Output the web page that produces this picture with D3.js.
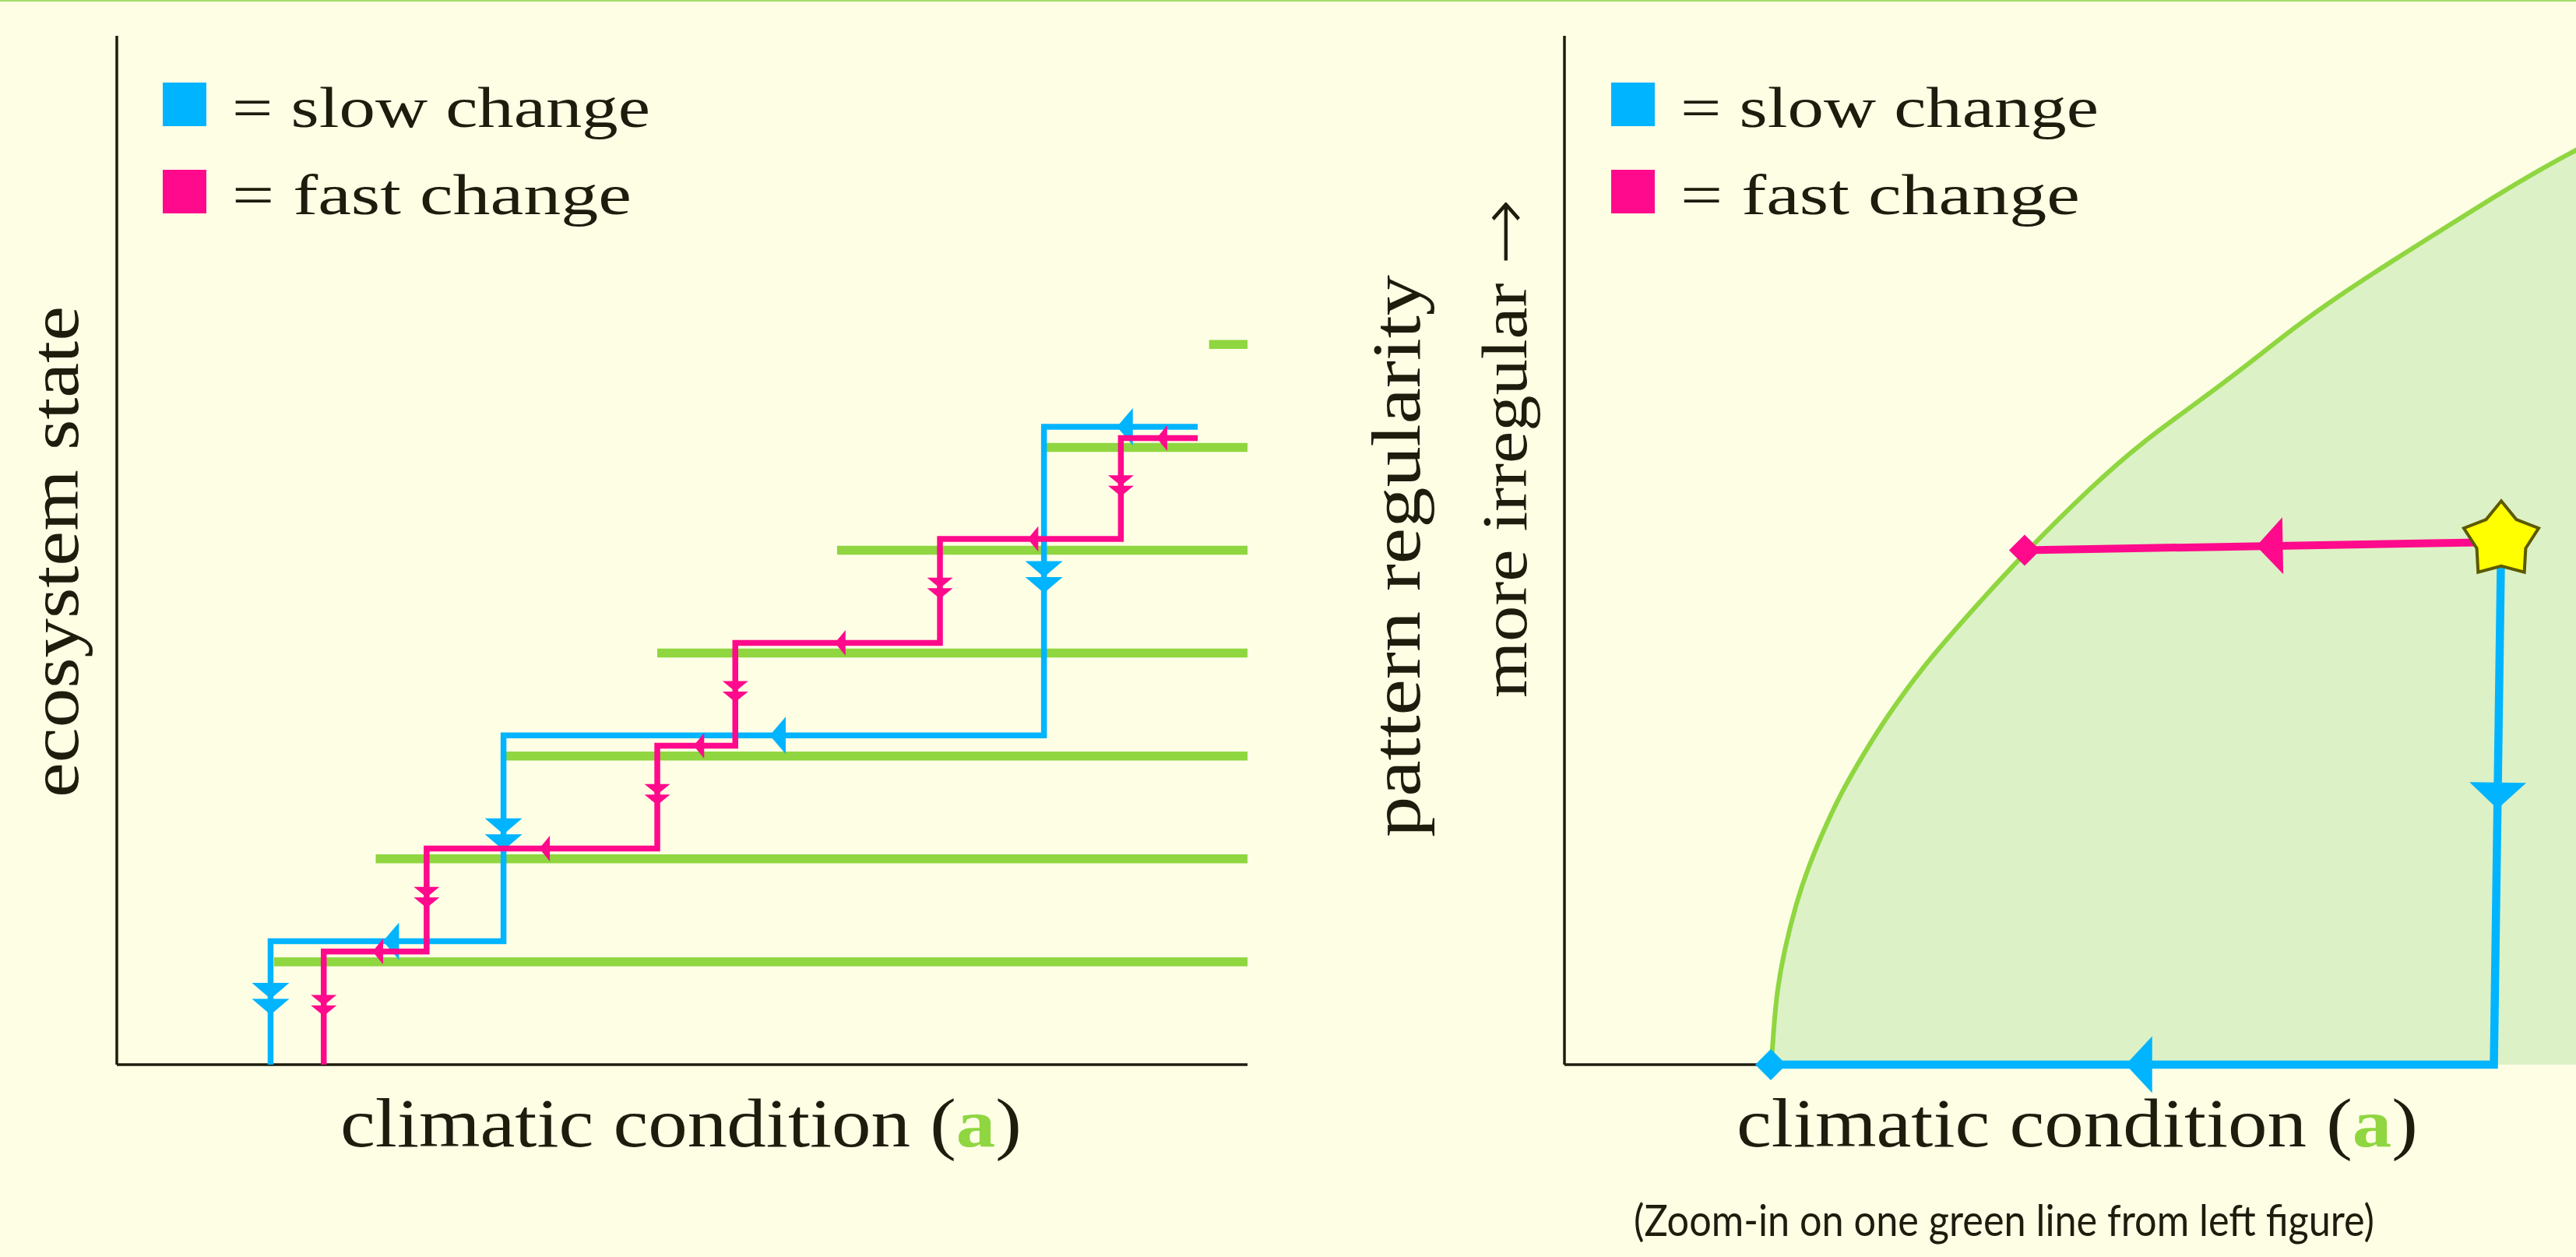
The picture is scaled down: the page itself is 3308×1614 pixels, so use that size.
<!DOCTYPE html>
<html>
<head>
<meta charset="utf-8">
<script src="https://cdn.jsdelivr.net/npm/d3@7"></script>
<style>
  html, body { margin: 0; padding: 0; background: #fefee5; }
  svg { display: block; }
</style>
</head>
<body>
<script>
// ---------------- DATA ----------------
// Left panel: green stable-state lines
const greenLevels = [1, 2, 3, 4, 5, 6, 7];
const greenStarts = [1.39, 2.29, 3.42, 4.78, 6.37, 8.22, 9.66];
const greenEnd = 10;
// Left panel: slow-change (blue) staircase, in travel order
const blueStepX = [9.56, 8.20, 8.20, 3.42, 3.42, 1.36, 1.36];
const blueStepY = [6.20, 6.20, 3.20, 3.20, 1.20, 1.20, 0];
// Left panel: fast-change (pink) staircase, in travel order
const pinkStepX = [9.56, 8.88, 8.88, 7.28, 7.28, 5.47, 5.47, 4.78, 4.78, 2.74, 2.74, 1.83, 1.83];
const pinkStepY = [6.09, 6.09, 5.11, 5.11, 4.10, 4.10, 3.10, 3.10, 2.10, 2.10, 1.10, 1.10, 0];

// Right panel: boundary curve (zoom on one green line)
const curveX = [1.83, 1.87, 1.95, 2.05, 2.14, 2.28, 2.44, 2.64, 2.85, 3.15, 3.52, 4.02, 4.67, 5.12, 5.59, 6.05, 6.46, 6.83, 7.29, 7.74, 8.20, 8.66, 8.95, 10.0];
const curveY = [0.00, 0.68, 1.14, 1.57, 1.87, 2.25, 2.63, 3.01, 3.38, 3.84, 4.31, 4.92, 5.63, 6.06, 6.43, 6.81, 7.17, 7.46, 7.79, 8.10, 8.42, 8.72, 8.89, 9.52];
// Right panel paths, in travel order
const bluePathRX = [8.285, 8.22, 1.825];
const bluePathRY = [5.10, 0.00, 0.00];
const pinkPathRX = [8.285, 4.07];
const pinkPathRY = [5.08, 5.00];
const starXY = [8.285, 5.096];

// Texts
const legendLabels = ["= slow change", "= fast change"];
const legendColors = ["#00b4ff", "#ff0a8c"];
const xLabelMain = "climatic condition (";
const xLabelSym = "a";
const yLabelLeft = "ecosystem state";
const yLabelRight1 = "pattern regularity";
const yLabelRight2 = "more irregular ";
const yLabelRight2Arrow = "\u2192";
const caption = "(Zoom-in on one green line from left figure)";

// ---------------- STYLE ----------------
const W = 3308, H = 1614;
const BG = "#fefee5", INK = "#1e1c0c";
const BLUE = "#00b4ff", PINK = "#ff0a8c", GREEN = "#8fd640", FILL = "#dcf1c6";
const SERIF = "'Liberation Serif', 'DejaVu Serif', serif";
const SANS = "Lato, 'Liberation Sans', sans-serif";

const svg = d3.select("body").append("svg")
  .attr("width", W).attr("height", H)
  .attr("viewBox", `0 0 ${W} ${H}`);

svg.append("rect").attr("width", W).attr("height", H).attr("fill", BG);
svg.append("rect").attr("width", W).attr("height", 2).attr("fill", "#a6de6c");

// scales
const xL = d3.scaleLinear().domain([0, 10]).range([150, 1602]);
const yL = d3.scaleLinear().domain([0, 10]).range([1367, 46]);
const xR = d3.scaleLinear().domain([0, 10]).range([2009, 3461]);
const yR = d3.scaleLinear().domain([0, 10]).range([1367, 46]);

const lineGen = (xs, ys) => d3.line().x(d => xs(d[0])).y(d => ys(d[1]));

// arrow helper: draws n stacked triangles at the midpoint of each segment
function drawArrows(g, pts, color, depth, base, n) {
  for (let i = 0; i < pts.length - 1; i++) {
    const [x0, y0] = pts[i], [x1, y1] = pts[i + 1];
    const dx = x1 - x0, dy = y1 - y0, L = Math.hypot(dx, dy);
    if (L < 1) continue;
    const ux = dx / L, uy = dy / L, nx = -uy, ny = ux;
    const mx = (x0 + x1) / 2, my = (y0 + y1) / 2;
    const off = n * depth / 2 - 0.25 * depth;
    const gtx = mx + ux * off, gty = my + uy * off;
    for (let k = 0; k < n; k++) {
      const tx = gtx - ux * depth * (n - 1 - k), ty = gty - uy * depth * (n - 1 - k);
      const bx = tx - ux * depth, by = ty - uy * depth;
      const p = [[tx, ty], [bx + nx * base / 2, by + ny * base / 2], [bx - nx * base / 2, by - ny * base / 2]];
      g.append("path").attr("d", "M" + p.map(q => q.join(",")).join("L") + "Z").attr("fill", color);
    }
  }
}

// split a staircase into horizontal and vertical segments for arrows
function segmentsByType(pts) {
  const h = [], v = [];
  for (let i = 0; i < pts.length - 1; i++) {
    const seg = [pts[i], pts[i + 1]];
    if (Math.abs(pts[i][1] - pts[i + 1][1]) < 0.5) h.push(seg); else v.push(seg);
  }
  return { h, v };
}

// ================= LEFT PANEL =================
const gL = svg.append("g");

// green lines
gL.selectAll("line.green").data(greenLevels).enter().append("line")
  .attr("x1", (d, i) => xL(greenStarts[i])).attr("x2", xL(greenEnd))
  .attr("y1", d => yL(d)).attr("y2", d => yL(d))
  .attr("stroke", GREEN).attr("stroke-width", 11.5);

// axes
gL.append("path").attr("d", `M${xL(0)},${yL(0)}V${yL(10)}`).attr("stroke", INK).attr("stroke-width", 3.5).attr("fill", "none");
gL.append("path").attr("d", `M${xL(0)},${yL(0)}H${xL(10)}`).attr("stroke", INK).attr("stroke-width", 3.5).attr("fill", "none");

function drawStair(xsArr, ysArr, color, width, depth, base) {
  const data = xsArr.map((x, i) => [x, ysArr[i]]);
  gL.append("path").attr("d", lineGen(xL, yL)(data))
    .attr("fill", "none").attr("stroke", color).attr("stroke-width", width)
    .attr("stroke-linejoin", "miter").attr("stroke-linecap", "butt");
  const px = data.map(d => [xL(d[0]), yL(d[1])]);
  const segs = segmentsByType(px);
  segs.h.forEach(s => drawArrows(gL, s, color, depth, base, 1));
  segs.v.forEach(s => drawArrows(gL, s, color, depth, base, 2));
}
drawStair(blueStepX, blueStepY, BLUE, 7.5, 20.5, 48);
drawStair(pinkStepX, pinkStepY, PINK, 7.5, 13.5, 33);

// ================= RIGHT PANEL =================
const gR = svg.append("g");
const curvePts = curveX.map((x, i) => [x, curveY[i]]);
const curveLine = d3.line().x(d => xR(d[0])).y(d => yR(d[1])).curve(d3.curveBasis);

// fill under the curve
gR.append("path")
  .attr("d", curveLine(curvePts) + `L${xR(curveX[curveX.length - 1])},${yR(0)}L${xR(curveX[0])},${yR(0)}Z`)
  .attr("fill", FILL);
gR.append("path").attr("d", curveLine(curvePts))
  .attr("fill", "none").attr("stroke", GREEN).attr("stroke-width", 6);

// axes
gR.append("path").attr("d", `M${xR(0)},${yR(0)}V${yR(10)}`).attr("stroke", INK).attr("stroke-width", 3.5).attr("fill", "none");
gR.append("path").attr("d", `M${xR(0)},${yR(0)}H${xR(curveX[0])}`).attr("stroke", INK).attr("stroke-width", 3.5).attr("fill", "none");

function drawPathR(xsArr, ysArr, color, width) {
  const data = xsArr.map((x, i) => [x, ysArr[i]]);
  gR.append("path").attr("d", lineGen(xR, yR)(data))
    .attr("fill", "none").attr("stroke", color).attr("stroke-width", width)
    .attr("stroke-linejoin", "miter");
  const px = data.map(d => [xR(d[0]), yR(d[1])]);
  drawArrows(gR, px, color, 34, 73, 1);
  const end = px[px.length - 1];
  const r = 20;
  gR.append("path").attr("d", `M${end[0] - r},${end[1]}L${end[0]},${end[1] - r}L${end[0] + r},${end[1]}L${end[0]},${end[1] + r}Z`)
    .attr("fill", color);
}
drawPathR(bluePathRX, bluePathRY, BLUE, 10.5);
drawPathR(pinkPathRX, pinkPathRY, PINK, 10);

// star
const starPath = d3.range(10).map(i => {
  const a = -Math.PI / 2 + i * Math.PI / 5;
  const r = i % 2 === 0 ? 50.5 : 33;
  return [xR(starXY[0]) + r * Math.cos(a), yR(starXY[1]) + r * Math.sin(a)];
});
gR.append("path").attr("d", "M" + starPath.map(p => p.join(",")).join("L") + "Z")
  .attr("fill", "#ffff00").attr("stroke", "#5c5a00").attr("stroke-width", 4).attr("stroke-linejoin", "miter");

// ================= TEXT =================
function legend(x0, textX) {
  legendLabels.forEach((lab, i) => {
    const yTop = 106 + i * 112;
    svg.append("rect").attr("x", x0).attr("y", yTop).attr("width", 56).attr("height", 56).attr("fill", legendColors[i]);
    svg.append("text").attr("x", textX).attr("y", yTop + 57)
      .attr("font-family", SERIF).attr("font-size", 74).attr("fill", INK)
      .attr("textLength", i === 0 ? 537 : 513).attr("lengthAdjust", "spacingAndGlyphs")
      .text(lab);
  });
}
legend(209, 298);
legend(2069, 2158);

function xLabel(x0) {
  const t = svg.append("text").attr("x", x0).attr("y", 1472)
    .attr("font-family", SERIF).attr("font-size", 89).attr("fill", INK)
    .attr("textLength", 875).attr("lengthAdjust", "spacingAndGlyphs");
  t.append("tspan").text(xLabelMain);
  t.append("tspan").attr("font-weight", "bold").attr("fill", GREEN).text(xLabelSym);
  t.append("tspan").text(")");
}
xLabel(437);
xLabel(2230);

function yLabel(txt, bx, yStart, len, size) {
  return svg.append("text").attr("transform", `translate(${bx},${yStart}) rotate(-90)`)
    .attr("font-family", SERIF).attr("font-size", size).attr("fill", INK)
    .attr("textLength", len).attr("lengthAdjust", "spacingAndGlyphs")
    .text(txt);
}
yLabel(yLabelLeft, 100, 1024, 631, 89);
yLabel(yLabelRight1, 1823, 1075, 722, 89);
const more = yLabel(yLabelRight2, 1960, 896, 641, 82);
more.append("tspan").attr("font-family", "'DejaVu Sans', sans-serif").attr("font-size", 90)
  .attr("font-weight", 200).attr("dy", 2).text(yLabelRight2Arrow);

svg.append("text").attr("x", 2098).attr("y", 1587)
  .attr("font-family", SANS).attr("font-size", 56).attr("fill", INK)
  .attr("textLength", 951).attr("lengthAdjust", "spacingAndGlyphs")
  .text(caption);
</script>
</body>
</html>
